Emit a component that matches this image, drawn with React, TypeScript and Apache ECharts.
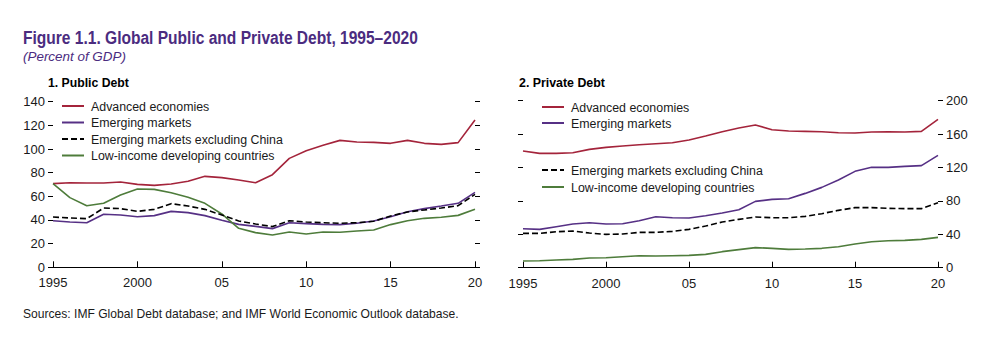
import React, { useEffect, useRef } from "react";
import * as echarts from "echarts";

const years = [1995,1996,1997,1998,1999,2000,2001,2002,2003,2004,2005,2006,2007,2008,2009,2010,2011,2012,2013,2014,2015,2016,2017,2018,2019,2020];

// Panel 1: Public debt (percent of GDP)
const pubAdvanced = [70.7,71.5,71.3,71.3,72.1,70.1,69.3,70.4,72.7,76.9,75.8,73.8,71.5,78.3,92.1,98.6,103.1,107.3,105.9,105.6,104.8,107.3,104.8,103.9,105.4,124.5];
const pubEmerging = [39.4,38.3,37.7,44.8,44.2,42.8,43.7,47.3,46.2,43.7,39.7,36.3,34.6,32.7,37.7,36.9,36.3,36.1,37.2,39.2,42.8,47.0,49.6,51.8,54.1,63.4];
const pubEmExChina = [42.5,41.7,41.1,50.1,49.6,47.3,49.0,53.8,51.8,49.0,44.2,39.2,36.6,34.4,39.4,38.3,37.7,37.2,37.7,38.9,43.4,46.8,48.5,50.1,52.1,61.7];
const pubLowIncome = [70.7,58.9,52.1,54.1,61.1,66.2,65.9,63.1,59.2,54.1,45.1,33.0,29.3,27.3,29.9,28.2,29.9,29.6,30.7,31.5,36.1,39.4,41.4,42.3,43.9,49.0];

// Panel 2: Private debt (percent of GDP)
const prvAdvanced = [139.7,136.9,136.9,137.7,141.7,144.1,145.7,147.3,148.5,149.7,152.9,157.7,162.9,167.3,170.9,165.3,163.7,163.3,162.9,161.7,161.3,162.5,162.9,162.5,163.3,177.6];
const prvEmerging = [46.7,45.9,49.1,52.3,53.9,52.3,52.7,56.3,61.1,59.9,59.5,62.3,65.5,69.5,79.4,81.8,82.6,89.0,96.2,105.0,115.4,120.2,120.2,121.4,122.2,134.5];
const prvEmExChina = [41.1,41.1,43.1,43.9,41.5,39.9,40.3,42.3,42.3,43.5,45.9,49.9,54.7,57.9,60.7,59.9,59.9,61.5,64.7,68.7,71.9,71.9,71.1,70.7,70.7,77.8];
const prvLowIncome = [8.0,8.4,9.2,10.0,11.6,12.0,13.2,14.4,14.0,14.4,14.8,16.0,19.2,21.6,24.0,23.2,22.0,22.4,23.2,25.1,28.3,31.1,32.3,32.7,33.9,36.3];

const seriesNames = ["Advanced economies", "Emerging markets", "Emerging markets excluding China", "Low-income developing countries"];

const title = "Figure 1.1. Global Public and Private Debt, 1995\u20132020";
const subtitle = "(Percent of GDP)";
const panel1Title = "1. Public Debt";
const panel2Title = "2. Private Debt";
const sourceNote = "Sources: IMF Global Debt database; and IMF World Economic Outlook database.";

const RED = "#a4243b";
const PURPLE = "#563085";
const BLACK = "#000000";
const GREEN = "#4e7c3b";
const TITLE_COLOR = "#4b2c7f";
const TEXT = "#1a1a1a";
const FAMILY = "'Liberation Sans', Arial, sans-serif";

const colors = [RED, PURPLE, BLACK, GREEN];
const dashed = [false, false, true, false];

function pairs(vals: number[]) {
  return years.map((y, i) => [y, vals[i]]);
}

function yearLabel(v: number) {
  if (v === 1995 || v === 2000) return String(v);
  return String(v).slice(2);
}

export default function App() {
  const ref = useRef<HTMLDivElement>(null);
  useEffect(() => {
    document.body.style.margin = "0";
    if (!ref.current) return;
    const chart = echarts.init(ref.current, null, { renderer: "svg" });

    const ctx = document.createElement("canvas").getContext("2d") as CanvasRenderingContext2D;
    const fitScale = (text: string, font: string, width: number) => {
      ctx.font = font;
      const w = ctx.measureText(text).width;
      return w > 0 ? width / w : 1;
    };

    // text placed by left edge, baseline, size and target width (condensed via scaleX)
    const txt = (text: string, x: number, baseline: number, size: number, width: number, fill: string, weight = "normal", style = "normal", scale?: number) => {
      const font = `${style} ${weight} ${size}px ${FAMILY}`;
      const sx = scale ?? fitScale(text, font, width);
      return {
        type: "text",
        x,
        y: baseline - 0.34 * size,
        scaleX: sx,
        style: { text, fill, font, align: "left", verticalAlign: "middle" },
      };
    };

    const xAxisBase = (gridIndex: number) => ({
      type: "value" as const,
      gridIndex,
      min: 1995,
      max: 2020,
      interval: 5,
      axisLine: { show: true, lineStyle: { color: "#000", width: 1 } },
      axisTick: { show: true, inside: true, length: 6, lineStyle: { color: "#000", width: 1 } },
      axisLabel: { show: true, margin: 9, color: TEXT, fontFamily: FAMILY, fontSize: 13, formatter: yearLabel },
      splitLine: { show: false },
    });

    const yAxisBase = (gridIndex: number, max: number, interval: number, position: "left" | "right", labels: boolean) => ({
      type: "value" as const,
      gridIndex,
      min: 0,
      max,
      interval,
      position,
      axisLine: { show: false },
      axisTick: { show: true, inside: false, length: 5, lineStyle: { color: "#000", width: 1 } },
      axisLabel: { show: labels, margin: 8, color: TEXT, fontFamily: FAMILY, fontSize: 13 },
      splitLine: { show: false },
    });

    const mkSeries = (vals: number[], idx: number, xAxisIndex: number, yAxisIndex: number) => ({
      type: "line" as const,
      name: seriesNames[idx] + (xAxisIndex === 0 ? " (public)" : " (private)"),
      xAxisIndex,
      yAxisIndex,
      data: pairs(vals),
      symbol: "none",
      lineStyle: { color: colors[idx], width: 1.6, type: dashed[idx] ? [6, 3] : "solid" },
      z: idx === 2 ? 3 : 2,
    });

    const legendSize = 13.5;
    const legendScale = fitScale(seriesNames[2], `normal normal ${legendSize}px ${FAMILY}`, 192);

    const legendItem = (x: number, yLine: number, idx: number) => [
      {
        type: "line",
        shape: { x1: x, y1: yLine, x2: x + 22, y2: yLine },
        style: { stroke: colors[idx], lineWidth: 2, lineDash: dashed[idx] ? [6, 3] : null },
      },
      txt(seriesNames[idx], x + 29, yLine + 4.7, legendSize, 0, TEXT, "normal", "normal", legendScale),
    ];

    const leftLegendY = [106, 122.5, 139, 155.5];
    const rightLegendY = [107, 123, 170, 187];

    const graphics: any[] = [
      txt(title, 23, 44, 18.5, 395, TITLE_COLOR, "bold"),
      txt(subtitle, 23, 61, 13.5, 103, TITLE_COLOR, "normal", "italic"),
      txt(panel1Title, 48, 86.7, 13.5, 81, "#000", "bold"),
      txt(panel2Title, 519, 87.3, 13.5, 86, "#000", "bold"),
      txt(sourceNote, 23, 318.3, 13, 436, TEXT),
    ];
    for (let i = 0; i < 4; i++) graphics.push(...legendItem(62, leftLegendY[i], i));
    for (let i = 0; i < 4; i++) graphics.push(...legendItem(542, rightLegendY[i], i));

    chart.setOption({
      animation: false,
      backgroundColor: "#ffffff",
      grid: [
        { left: 53, right: 518, top: 101.7, bottom: 85.7 },
        { left: 523, right: 55, top: 100.7, bottom: 85.3 },
      ],
      xAxis: [xAxisBase(0), xAxisBase(1)],
      yAxis: [
        yAxisBase(0, 140, 20, "left", true),
        yAxisBase(0, 140, 20, "right", false),
        yAxisBase(1, 200, 40, "left", false),
        yAxisBase(1, 200, 40, "right", true),
      ],
      series: [
        mkSeries(pubAdvanced, 0, 0, 0),
        mkSeries(pubEmerging, 1, 0, 0),
        mkSeries(pubEmExChina, 2, 0, 0),
        mkSeries(pubLowIncome, 3, 0, 0),
        mkSeries(prvAdvanced, 0, 1, 3),
        mkSeries(prvEmerging, 1, 1, 3),
        mkSeries(prvEmExChina, 2, 1, 3),
        mkSeries(prvLowIncome, 3, 1, 3),
      ],
      graphic: graphics,
    });

    return () => chart.dispose();
  }, []);
  return <div ref={ref} style={{ width: 993, height: 353 }} />;
}
